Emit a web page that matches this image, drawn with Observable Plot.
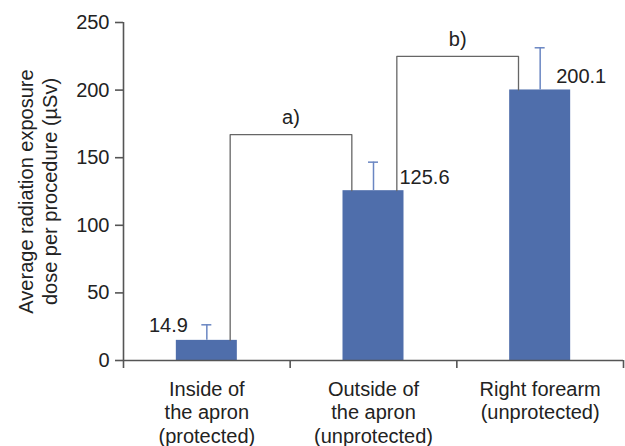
<!DOCTYPE html>
<html>
<head>
<meta charset="utf-8">
<script src="https://cdn.jsdelivr.net/npm/d3@7"></script>
<script src="https://cdn.jsdelivr.net/npm/@observablehq/plot@0.6"></script>
<style>
  html, body { margin: 0; padding: 0; background: #fff; }
</style>
</head>
<body>
<div id="chart"></div>
<script>
// ---- data ----
const categories = ["Inside of\nthe apron\n(protected)", "Outside of\nthe apron\n(unprotected)", "Right forearm\n(unprotected)"];
const means = [14.9, 125.6, 200.1];
const errors = [11.5, 21.1, 31.2];
const yTicks = [0, 50, 100, 150, 200, 250];
const bracketFrom = [0, 1];
const bracketTo = [1, 2];
const bracketHeights = [167, 225];
const bracketLabels = ["a)", "b)"];
const yLabel = "Average radiation exposure\ndose per procedure (µSv)";

// ---- derived table ----
const data = categories.map((c, i) => ({
  i, name: c, center: i + 0.5, mean: means[i], top: means[i] + errors[i],
  label: means[i].toFixed(1)
}));
const half = 0.183, cap = 0.03, offL = 0.14, offR = 0.13;
const bracketPaths = bracketFrom.map((f, k) => {
  const t = bracketTo[k];
  const x1 = f + 0.5 + offL, x2 = t + 0.5 - offR, h = bracketHeights[k];
  return [
    {k, x: x1, y: means[f]}, {k, x: x1, y: h},
    {k, x: x2, y: h}, {k, x: x2, y: means[t]}
  ];
}).flat();
const bracketText = bracketFrom.map((f, k) => ({
  x: ((f + 0.5 + offL) + (bracketTo[k] + 0.5 - offR)) / 2,
  y: bracketHeights[k], text: bracketLabels[k]
}));

const barColor = "#4f6eab";
const errColor = "#6a86c2";
const axisColor = "#555";
const ink = "#222";

const chart = Plot.plot({
  width: 625,
  height: 446,
  marginLeft: 123,
  marginRight: 2,
  marginTop: 22,
  marginBottom: 86,
  style: {fontFamily: "'Liberation Sans', Arial, sans-serif", fontSize: "20px", color: ink, background: "#fff"},
  x: {domain: [0, 3]},
  y: {domain: [0, 250]},
  marks: [
    Plot.rectY(data, {x1: d => d.center - half, x2: d => d.center + half, y: "mean", fill: barColor}),
    Plot.ruleX(data, {x: "center", y1: "mean", y2: "top", stroke: errColor, strokeWidth: 1.5}),
    Plot.ruleY(data, {y: "top", x1: d => d.center - cap, x2: d => d.center + cap, stroke: errColor, strokeWidth: 1.5}),
    Plot.line(bracketPaths, {x: "x", y: "y", z: "k", stroke: "#666", strokeWidth: 1.3}),
    Plot.text(bracketText, {x: "x", y: "y", text: "text", dy: -17, fill: ink, fontSize: 20}),
    // value labels
    Plot.text(data.filter(d => d.i === 0), {x: "center", y: "top", text: "label", textAnchor: "end", dx: -19, dy: 1, fill: ink, fontSize: 20}),
    Plot.text(data.filter(d => d.i === 1), {x: "center", y: "mean", text: "label", textAnchor: "start", dx: 26, dy: -13, fill: ink, fontSize: 20}),
    Plot.text(data.filter(d => d.i === 2), {x: "center", y: "mean", text: "label", textAnchor: "start", dx: 16, dy: -13, fill: ink, fontSize: 20}),
    // axes
    Plot.ruleY([0], {stroke: axisColor, strokeWidth: 1.6}),
    Plot.ruleX([0], {y1: 0, y2: 250, stroke: axisColor, strokeWidth: 1.6}),
    Plot.axisY({ticks: yTicks, tickSize: 8, tickPadding: 6, label: null, stroke: axisColor, strokeWidth: 1.6, fill: ink, fontSize: 20}),
    Plot.axisX({ticks: [0, 1, 2, 3], tickSize: 8, tickFormat: () => "", label: null, stroke: axisColor, strokeWidth: 1.6}),
    Plot.text(data, {x: "center", y: 0, text: "name", lineAnchor: "top", dy: 19, lineHeight: 1.165, fill: ink, fontSize: 20}),
    Plot.text([yLabel], {frameAnchor: "left", text: d => d, rotate: -90, textAnchor: "middle", lineAnchor: "middle", dx: -86, lineHeight: 1.17, fill: ink, fontSize: 20})
  ]
});
document.getElementById("chart").appendChild(chart);
</script>
</body>
</html>
